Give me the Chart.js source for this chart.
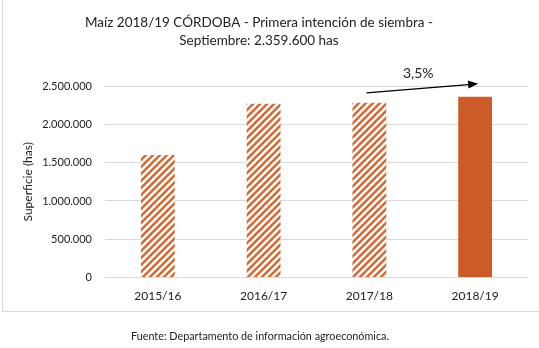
<!DOCTYPE html>
<html>
<head>
<meta charset="utf-8">
<script src="https://cdn.jsdelivr.net/npm/chart.js@4"></script>
<style>
  html, body { margin: 0; padding: 0; background: #fff; }
  #wrap { width: 539px; height: 348px; position: relative; }
</style>
</head>
<body>
<div id="wrap"><canvas id="barChart"></canvas></div>
<script>
// Data
const campaigns = ['2015/16', '2016/17', '2017/18', '2018/19'];
const surface = [1600000, 2270000, 2280000, 2359600];
const yTicks = [0, 500000, 1000000, 1500000, 2000000, 2500000];
const growthLabel = '3,5%';
const titleLines = ['Maíz 2018/19 CÓRDOBA - Primera intención de siembra -', 'Septiembre: 2.359.600 has'];
const sourceText = 'Fuente: Departamento de información agroeconómica.';

const ORANGE = '#CB5B28';
const HATCH = '#D66A35';
const TEXT = '#222';

// diagonal stripes for the previous campaigns
function makeHatch() {
  const size = 7;
  const c = document.createElement('canvas');
  c.width = size; c.height = size;
  const g = c.getContext('2d');
  g.fillStyle = '#fff';
  g.fillRect(0, 0, size, size);
  g.strokeStyle = HATCH;
  g.lineWidth = 2.6;
  g.beginPath();
  g.moveTo(-1, size + 1); g.lineTo(size + 1, -1);
  g.moveTo(-1, 1); g.lineTo(1, -1);
  g.moveTo(size - 1, size + 1); g.lineTo(size + 1, size - 1);
  g.stroke();
  return document.getElementById('barChart').getContext('2d').createPattern(c, 'repeat');
}
const hatch = makeHatch();

const fmt = v => v.toLocaleString('de-DE');

// title, border, footer text and growth arrow
const extras = {
  id: 'extras',
  afterDraw(chart) {
    const ctx = chart.ctx;
    const x = chart.scales.x, y = chart.scales.y;
    ctx.save();
    ctx.strokeStyle = '#d9d9d9';
    ctx.lineWidth = 1;
    ctx.strokeRect(2.5, -2, 540, 313.5);

    ctx.fillStyle = TEXT;
    ctx.textAlign = 'center';
    ctx.textBaseline = 'middle';
    ctx.font = '13.5px Lato';
    ctx.fillText(titleLines[0], 259, 23);
    ctx.fillText(titleLines[1], 259, 41);

    ctx.font = '10.8px Lato';
    ctx.fillText(sourceText, 260, 337);

    // arrow from 2017/18 to 2018/19
    const x0 = x.getPixelForValue(2) - 3;
    const y0 = y.getPixelForValue(surface[2]) - 10;
    const x1 = x.getPixelForValue(3) + 3;
    const y1 = y.getPixelForValue(surface[3]) - 13;
    ctx.strokeStyle = '#000';
    ctx.lineWidth = 1.2;
    const ang = Math.atan2(y1 - y0, x1 - x0);
    const hl = 10;
    ctx.beginPath();
    ctx.moveTo(x0, y0);
    ctx.lineTo(x1 - hl * Math.cos(ang), y1 - hl * Math.sin(ang));
    ctx.stroke();
    ctx.fillStyle = '#000';
    ctx.beginPath();
    ctx.moveTo(x1, y1);
    ctx.lineTo(x1 - hl * Math.cos(ang) + 4 * Math.sin(ang), y1 - hl * Math.sin(ang) - 4 * Math.cos(ang));
    ctx.lineTo(x1 - hl * Math.cos(ang) - 4 * Math.sin(ang), y1 - hl * Math.sin(ang) + 4 * Math.cos(ang));
    ctx.closePath();
    ctx.fill();

    ctx.fillStyle = TEXT;
    ctx.font = '14px Lato';
    ctx.fillText(growthLabel, (x0 + x1) / 2 - 4, (y0 + y1) / 2 - 15);
    ctx.restore();
  }
};

new Chart(document.getElementById('barChart').getContext('2d'), {
  type: 'bar',
  data: {
    labels: campaigns,
    datasets: [{
      data: surface,
      backgroundColor: [hatch, hatch, hatch, ORANGE],
      barPercentage: 0.32,
      categoryPercentage: 1
    }]
  },
  options: {
    responsive: true,
    maintainAspectRatio: false,
    animation: false,
    layout: { padding: { left: 21, right: 11, top: 86, bottom: 42 } },
    plugins: {
      legend: { display: false },
      tooltip: { enabled: false },
      title: { display: false }
    },
    scales: {
      x: {
        grid: { display: false },
        border: { display: false },
        ticks: { color: TEXT, font: { family: 'Lato', size: 12 }, padding: 3 }
      },
      y: {
        min: 0,
        max: 2500000,
        afterBuildTicks: s => { s.ticks = yTicks.map(v => ({ value: v })); },
        afterFit: s => { s.width = 84; },
        grid: { color: '#d9d9d9', drawTicks: false },
        border: { display: false },
        ticks: { color: TEXT, font: { family: 'Lato', size: 11 }, padding: 13, callback: v => fmt(v) },
        title: {
          display: true,
          text: 'Superficie (has)',
          color: TEXT,
          font: { family: 'Lato', size: 12 },
          padding: { top: 0, bottom: 4 }
        }
      }
    }
  },
  plugins: [extras]
});
</script>
</body>
</html>
